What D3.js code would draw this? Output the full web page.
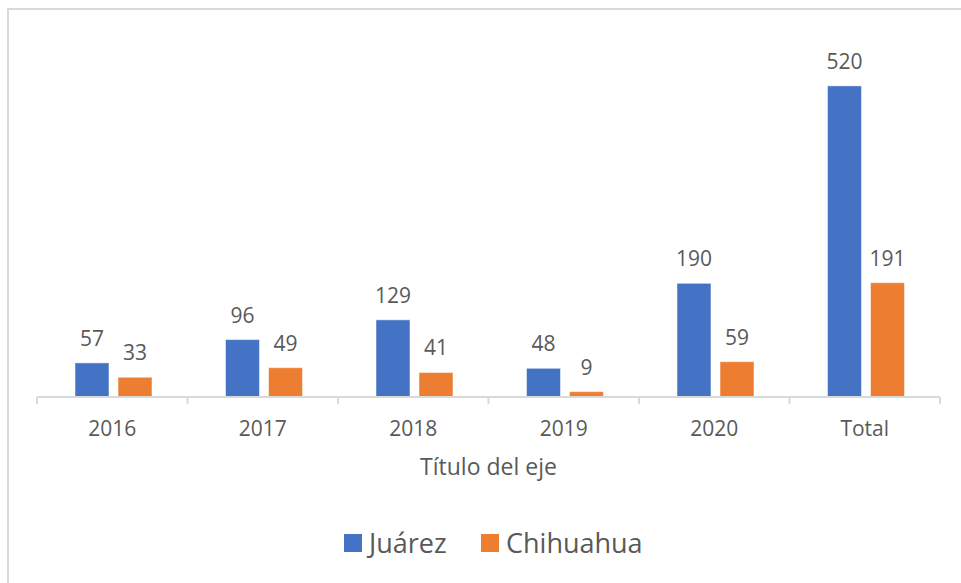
<!DOCTYPE html>
<html>
<head>
<meta charset="utf-8">
<script src="https://cdn.jsdelivr.net/npm/d3@7"></script>
<style>
  body { margin: 0; background: #fff; }
  text { font-family: "Open Sans", sans-serif; fill: #595959; }
</style>
</head>
<body>
<script>
// data
var categories = ["2016", "2017", "2018", "2019", "2020", "Total"];
var juarez = [57, 96, 129, 48, 190, 520];
var chihuahua = [33, 49, 41, 9, 59, 191];
var seriesNames = ["Juárez", "Chihuahua"];
var colors = ["#4472C4", "#ED7D31"];

var W = 961, H = 583;

var svg = d3.select("body")
  .append("svg")
    .attr("width", W)
    .attr("height", H);

// chart border (top and left visible)
svg.append("rect")
  .attr("x", 8).attr("y", 9)
  .attr("width", W + 20).attr("height", H + 20)
  .attr("fill", "#fff")
  .attr("stroke", "#d9d9d9")
  .attr("stroke-width", 2);

var x0 = d3.scaleBand()
  .domain(categories)
  .range([37, 940]);

var x1 = d3.scaleBand()
  .domain(seriesNames)
  .range([38, 115])
  .paddingInner(0.21);

var y = d3.scaleLinear()
  .domain([0, 600])
  .range([397, 38]);

var rows = categories.map(function(c, i) {
  return { cat: c, values: [juarez[i], chihuahua[i]] };
});

var groups = svg.append("g")
  .selectAll("g")
  .data(rows)
  .enter()
  .append("g")
    .attr("transform", function(d) { return "translate(" + x0(d.cat) + ",0)"; });

groups.selectAll("rect")
  .data(function(d) { return d.values.map(function(v, j) { return { name: seriesNames[j], v: v, j: j }; }); })
  .enter()
  .append("rect")
    .attr("x", function(d) { return x1(d.name); })
    .attr("y", function(d) { return y(d.v); })
    .attr("width", x1.bandwidth())
    .attr("height", function(d) { return y(0) - y(d.v); })
    .attr("fill", function(d) { return colors[d.j]; })
    .attr("stroke", "rgba(255,255,255,0.5)")
    .attr("stroke-width", 1);

// data labels
groups.selectAll("text")
  .data(function(d) { return d.values.map(function(v, j) { return { name: seriesNames[j], v: v }; }); })
  .enter()
  .append("text")
    .attr("x", function(d) { return x1(d.name) + x1.bandwidth() / 2; })
    .attr("y", function(d) { return y(d.v) - 17; })
    .attr("text-anchor", "middle")
    .style("font-size", "21px")
    .text(function(d) { return d.v; });

// x axis
var xAxis = svg.append("g")
  .attr("transform", "translate(0," + y(0) + ")")
  .call(d3.axisBottom(x0).tickSize(0).tickPadding(0));
xAxis.select(".domain").remove();
xAxis.selectAll("text")
  .attr("y", 39)
  .attr("dy", null)
  .style("font-size", "21px")
  .style("font-family", "Open Sans, sans-serif")
  .attr("fill", "#595959");

svg.append("line")
  .attr("x1", 37).attr("x2", 940)
  .attr("y1", y(0)).attr("y2", y(0))
  .attr("stroke", "#d9d9d9")
  .attr("stroke-width", 2);

var boundaries = categories.map(function(c) { return x0(c); }).concat([x0.range()[1]]);
svg.selectAll(".sep")
  .data(boundaries)
  .enter()
  .append("line")
    .attr("class", "sep")
    .attr("x1", function(d) { return d; })
    .attr("x2", function(d) { return d; })
    .attr("y1", y(0))
    .attr("y2", y(0) + 7)
    .attr("stroke", "#d9d9d9")
    .attr("stroke-width", 2);

// axis title
svg.append("text")
  .attr("x", 488.5)
  .attr("y", 475)
  .attr("text-anchor", "middle")
  .style("font-size", "23px")
  .text("Título del eje");

// legend
var legendX = [344, 481];
var legend = svg.selectAll(".legend")
  .data(seriesNames)
  .enter()
  .append("g")
    .attr("class", "legend")
    .attr("transform", function(d, i) { return "translate(" + legendX[i] + ",534)"; });

legend.append("rect")
  .attr("width", 18)
  .attr("height", 18)
  .attr("fill", function(d, i) { return colors[i]; });

legend.append("text")
  .attr("x", 25)
  .attr("y", 19)
  .style("font-size", "27px")
  .text(function(d) { return d; });
</script>
</body>
</html>
